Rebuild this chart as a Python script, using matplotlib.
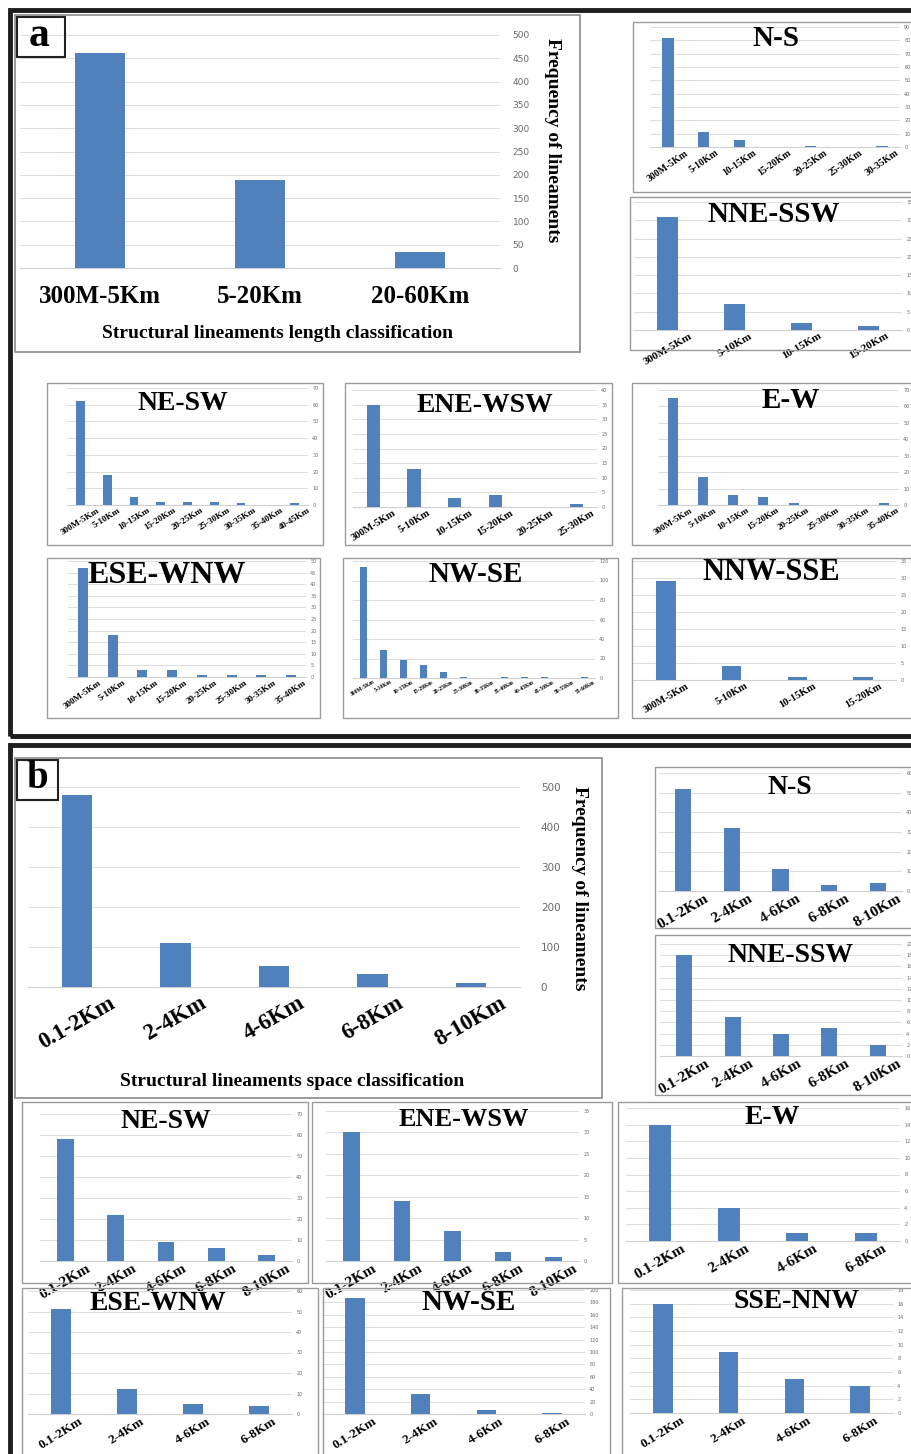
import numpy as np, matplotlib.pyplot as plt
from matplotlib.patches import Rectangle

# ---- data: (a) length classification ----
a_main_cats = ['300M-5Km', '5-20Km', '20-60Km']
a_main_vals = [462, 189, 34]

a_ns_cats = ['300M-5Km', '5-10Km', '10-15Km', '15-20Km', '20-25Km', '25-30Km', '30-35Km']
a_ns_vals = [82, 11, 5, 0, 1, 0, 1]
a_nne_cats = ['300M-5Km', '5-10Km', '10-15Km', '15-20Km']
a_nne_vals = [31, 7, 2, 1]
a_ne_cats = ['300M-5Km', '5-10Km', '10-15Km', '15-20Km', '20-25Km', '25-30Km', '30-35Km', '35-40Km', '40-45Km']
a_ne_vals = [62, 18, 5, 2, 2, 2, 1, 0, 1]
a_ene_cats = ['300M-5Km', '5-10Km', '10-15Km', '15-20Km', '20-25Km', '25-30Km']
a_ene_vals = [35, 13, 3, 4, 0, 1]
a_ew_cats = ['300M-5Km', '5-10Km', '10-15Km', '15-20Km', '20-25Km', '25-30Km', '30-35Km', '35-40Km']
a_ew_vals = [65, 17, 6, 5, 1, 0, 0, 1]
a_ese_cats = ['300M-5Km', '5-10Km', '10-15Km', '15-20Km', '20-25Km', '25-30Km', '30-35Km', '35-40Km']
a_ese_vals = [47, 18, 3, 3, 1, 1, 1, 1]
a_nw_cats = ['300M-5Km', '5-10Km', '10-15Km', '15-20Km', '20-25Km', '25-30Km', '30-35Km',
             '35-40Km', '40-45Km', '45-50Km', '50-55Km', '55-60Km']
a_nw_vals = [114, 29, 18, 13, 6, 1, 0, 1, 1, 1, 0, 1]
a_nnw_cats = ['300M-5Km', '5-10Km', '10-15Km', '15-20Km']
a_nnw_vals = [29, 4, 1, 1]

# ---- data: (b) space classification ----
b_main_cats = ['0.1-2Km', '2-4Km', '4-6Km', '6-8Km', '8-10Km']
b_main_vals = [480, 110, 52, 32, 10]

b5_cats = ['0.1-2Km', '2-4Km', '4-6Km', '6-8Km', '8-10Km']
b4_cats = ['0.1-2Km', '2-4Km', '4-6Km', '6-8Km']
b_ns_vals = [52, 32, 11, 3, 4]
b_nne_vals = [18, 7, 4, 5, 2]
b_ne_vals = [58, 22, 9, 6, 3]
b_ene_vals = [30, 14, 7, 2, 1]
b_ew_vals = [14, 4, 1, 1]
b_ese_vals = [51, 12, 5, 4]
b_nw_vals = [187, 32, 6, 2]
b_sse_vals = [16, 9, 5, 4]

W, H = 912, 1454
BLUE = '#4F81BD'
SERIF = ['Liberation Serif', 'DejaVu Serif']

fig = plt.figure(figsize=(W / 100, H / 100), dpi=100)


def fb(x0, y0, x1, y1):
    return [x0 / W, 1 - y1 / H, (x1 - x0) / W, (y1 - y0) / H]


def frame(x0, y0, x1, y1, lw, color):
    fig.add_artist(Rectangle((x0 / W, 1 - y1 / H), (x1 - x0) / W, (y1 - y0) / H,
                             transform=fig.transFigure, fill=False, lw=lw, edgecolor=color))


def ftext(x, y, s, **kw):
    fig.text(x / W, 1 - y / H, s, family=SERIF, fontweight='bold', ha='center', va='center', **kw)


def bars(pos, cats, vals, ymax, step, width, lab_fs, rot, tick_fs, tick_pad, lab_pad=1):
    ax = fig.add_axes(fb(*pos))
    x = np.arange(len(cats))
    ax.bar(x, vals, width, color=BLUE, zorder=3)
    ax.set_xlim(-0.5, len(cats) - 0.5)
    ax.set_ylim(0, ymax)
    ax.set_yticks(np.arange(0, ymax + step / 2, step))
    ax.yaxis.tick_right()
    ax.grid(axis='y', color='#dcdcdc', lw=0.7, zorder=0)
    for s in ax.spines.values():
        s.set_visible(False)
    ax.spines['bottom'].set_visible(True)
    ax.spines['bottom'].set_color('#d0d0d0')
    ax.tick_params(axis='y', length=0, labelsize=tick_fs, labelcolor='#6a6a6a', pad=tick_pad)
    ax.tick_params(axis='x', length=0, pad=lab_pad)
    ax.set_xticks(x)
    ax.set_xticklabels(cats, rotation=rot, ha='center', va='top', family=SERIF,
                       fontweight='bold', fontsize=lab_fs)
    ax.patch.set_alpha(0)
    return ax


# outer frames
frame(10, 10, 916, 736, 3.5, '#1e1e1e')
frame(10, 745, 916, 1462, 3.5, '#1e1e1e')

# ---- main (a) ----
frame(15, 15, 580, 352, 1.2, '#8a8a8a')
bars((20, 35, 500, 268), a_main_cats, a_main_vals, 500, 50, 0.31, 18, 0, 6.5, 9, lab_pad=12)
frame(17, 17, 65, 57, 1.5, '#222222')
ftext(39, 36, 'a', fontsize=30)
ftext(278, 334, 'Structural lineaments length classification', fontsize=14)
ftext(553, 140, 'Frequency of lineaments', fontsize=14, rotation=270)

# ---- main (b) ----
frame(15, 758, 602, 1098, 1.2, '#8a8a8a')
bars((28, 787, 520, 987), b_main_cats, b_main_vals, 500, 100, 0.31, 16.5, 30, 7.5, 15, lab_pad=4)
frame(17, 760, 58, 800, 1.5, '#222222')
ftext(37, 779, 'b', fontsize=28)
ftext(292, 1082, 'Structural lineaments space classification', fontsize=14)
ftext(580, 888, 'Frequency of lineaments', fontsize=14, rotation=270)

# ---- small panels ----
# (box, axes, title xy, title size, title, cats, vals, ymax, step, bar width, label size, rotation)
small = [
    ((633, 22, 912, 192), (650, 27, 900, 147), (776, 38), 21, 'N-S', a_ns_cats, a_ns_vals, 90, 10, 0.32, 7, 35),
    ((630, 197, 912, 350), (634, 202, 902, 330), (774, 214), 21, 'NNE-SSW', a_nne_cats, a_nne_vals, 35, 5, 0.3, 8, 30),
    ((47, 383, 323, 545), (67, 388, 308, 505), (183, 404), 20, 'NE-SW', a_ne_cats, a_ne_vals, 70, 10, 0.33, 6.5, 32),
    ((345, 383, 612, 545), (353, 390, 597, 507), (485, 406), 20, 'ENE-WSW', a_ene_cats, a_ene_vals, 40, 5, 0.33, 7.5, 32),
    ((632, 383, 912, 545), (658, 390, 899, 505), (791, 400), 21, 'E-W', a_ew_cats, a_ew_vals, 70, 10, 0.33, 6.5, 32),
    ((47, 558, 320, 718), (68, 561, 306, 677), (167, 576), 23, 'ESE-WNW', a_ese_cats, a_ese_vals, 50, 5, 0.33, 6.5, 35),
    ((343, 558, 618, 718), (353, 561, 595, 678), (476, 574), 21, 'NW-SE', a_nw_cats, a_nw_vals, 120, 20, 0.35, 4, 30),
    ((632, 558, 912, 718), (633, 561, 896, 680), (771, 572), 22, 'NNW-SSE', a_nnw_cats, a_nnw_vals, 35, 5, 0.3, 7.5, 30),
    ((655, 767, 912, 928), (659, 773, 902, 891), (790, 787), 20, 'N-S', b5_cats, b_ns_vals, 60, 10, 0.33, 11, 30),
    ((655, 935, 912, 1095), (660, 944, 902, 1056), (791, 955), 20, 'NNE-SSW', b5_cats, b_nne_vals, 20, 2, 0.33, 11, 30),
    ((22, 1102, 308, 1283), (40, 1114, 292, 1261), (166, 1121), 20, 'NE-SW', b5_cats, b_ne_vals, 70, 10, 0.33, 11, 30),
    ((312, 1102, 612, 1283), (326, 1111, 579, 1261), (464, 1120), 19, 'ENE-WSW', b5_cats, b_ene_vals, 35, 5, 0.33, 11, 30),
    ((618, 1102, 912, 1283), (626, 1108, 900, 1241), (772, 1118), 20, 'E-W', b4_cats, b_ew_vals, 16, 2, 0.32, 11, 30),
    ((22, 1288, 318, 1458), (28, 1291, 292, 1414), (158, 1304), 20, 'ESE-WNW', b4_cats, b_ese_vals, 60, 10, 0.3, 9.5, 32),
    ((323, 1288, 610, 1458), (322, 1290, 585, 1414), (469, 1302), 21, 'NW-SE', b4_cats, b_nw_vals, 200, 20, 0.3, 9.5, 32),
    ((622, 1288, 912, 1458), (630, 1290, 893, 1413), (797, 1302), 20, 'SSE-NNW', b4_cats, b_sse_vals, 18, 2, 0.3, 9.5, 32),
]

for box, pos, txy, tfs, title, cats, vals, ymax, step, bw, lfs, rot in small:
    frame(*box, 1.0, '#9a9a9a')
    bars(pos, cats, vals, ymax, step, bw, lfs, rot, 3.5, 3)
    ftext(txy[0], txy[1], title, fontsize=tfs)

fig.savefig('out.png', dpi=100)
